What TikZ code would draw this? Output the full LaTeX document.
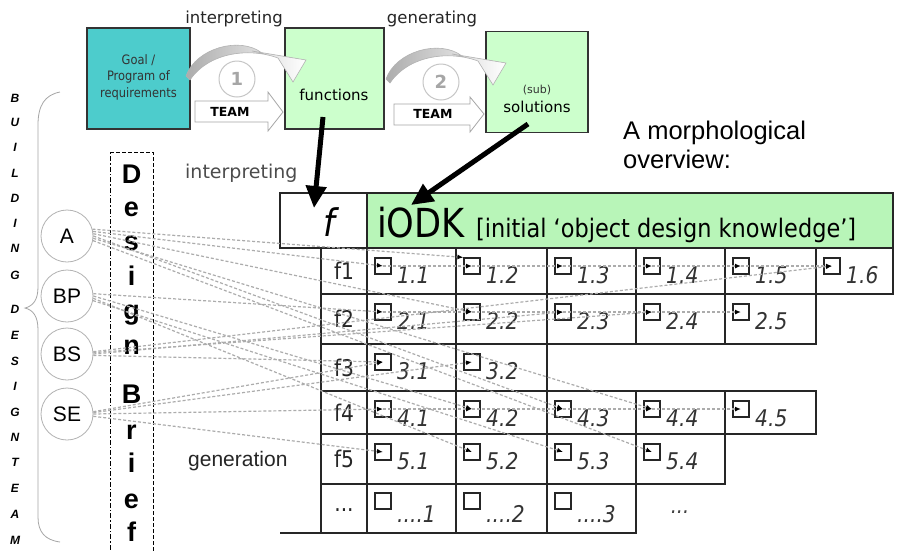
\documentclass[tikz,border=0pt]{standalone}
\usepackage{fontspec}
\setmainfont{DejaVu Sans}
\newfontfamily\arial{Liberation Sans}
\newfontfamily\tah[FakeStretch=0.88]{DejaVu Sans}
\usetikzlibrary{arrows.meta}
\definecolor{tealbox}{HTML}{4DCCCC}
\definecolor{lgreen}{HTML}{CCFFCC}
\definecolor{hgreen}{HTML}{B8F5B8}
\newcommand\fsz[1]{\fontsize{#1}{#1}\selectfont}
\tikzset{
  topbox/.style={draw=black!80,line width=1.3pt,minimum width=103pt,minimum height=101pt,inner sep=0pt},
  tline/.style={draw=black!85,line width=1.3pt},
  sqbox/.style={draw=black!85,line width=1.2pt,minimum size=16pt,inner sep=0pt},
  dl/.style={draw=gray!65,dash pattern=on 3pt off 2pt,line width=1.2pt,-{Latex[black,length=6pt,width=5pt]}},
  bigarrow/.style={line width=5pt,-{Triangle[length=22pt,width=20pt]}},
  member/.style={circle,draw=gray!60,line width=0.8pt,minimum size=52pt,inner sep=0pt,font=\arial\fsz{21}},
  stepcirc/.style={circle,draw=gray!45,line width=1pt,minimum size=36pt,inner sep=0pt,font=\bfseries\fsz{18},text=gray!70},
  teamarrow/.style={draw=gray!70,fill=white,line width=0.8pt},
  curvarrow/.style={draw=gray!60,line width=0.6pt,left color=gray!65,right color=white},
  cellnum/.style={anchor=base west,font=\tah\itshape\fsz{23},text=black!80,inner sep=0pt},
  rowlab/.style={font=\tah\fsz{23},text=black!85},
  dbletter/.style={anchor=base,font=\arial\bfseries\fsz{27},inner sep=0pt},
  bdletter/.style={font=\arial\bfseries\itshape\fsz{12},inner sep=0pt}
}
\begin{document}
\begin{tikzpicture}[x=1pt,y=-1pt]
\useasboundingbox (0,0) rectangle (899,550);
\fill[white] (0,0) rectangle (899,550);

% ---------- top process ----------
\node[topbox,fill=tealbox,minimum width=103pt] (goal) at (138.5,78.5) {};
\node[align=center,font=\tah\fontsize{13}{16.5}\selectfont,text=black!80] (goalt) at (138.5,77) {Goal /\\Program of\\requirements};
\node[topbox,fill=lgreen,minimum width=99pt] (func) at (334.5,78.5) {};
\node[font=\fsz{15}] (funct) at (334,95) {functions};
\node[topbox,fill=lgreen,minimum width=102pt] (sol) at (537,82) {};
\node[font=\fsz{11},text=black!80] (subt) at (537,90) {(sub)};
\node[font=\fsz{15}] (solt) at (537,107) {solutions};

\node[anchor=base,font=\fsz{16.5},text=black!85] (int1) at (234,23) {interpreting};
\node[anchor=base,font=\fsz{16.5},text=black!85] (gen1) at (432,23) {generating};

\node[stepcirc] (c1) at (237,79) {1};
\node[stepcirc] (c2) at (441,82) {2};

% curved block arrows
\path[curvarrow] (186,76) .. controls (196,48) and (240,36) .. (262,53) -- (252,51) -- (306,60) -- (293,82) -- (278,58) .. controls (248,47) and (208,53) .. (190,80) -- cycle;
\begin{scope}[shift={(200,3)}]
\path[curvarrow] (186,76) .. controls (196,48) and (240,36) .. (262,53) -- (252,51) -- (306,60) -- (293,82) -- (278,58) .. controls (248,47) and (208,53) .. (190,80) -- cycle;
\end{scope}

% TEAM arrows
\path[teamarrow] (195,101) -- (268,101) -- (268,92) -- (283,112) -- (268,131) -- (268,122) -- (195,122) -- cycle;
\node[font=\bfseries\fsz{12.5}] (team1) at (230,112) {TEAM};
\path[teamarrow] (394,104) -- (470,104) -- (470,97) -- (484,114) -- (470,132) -- (470,125) -- (394,125) -- cycle;
\node[font=\bfseries\fsz{12.5}] (team2) at (433,114) {TEAM};

% morphological text
\node[anchor=base west,font=\arial\fsz{25.5},inner sep=0pt] (morph1) at (623,139) {A morphological};
\node[anchor=base west,font=\arial\fsz{25.5},inner sep=0pt] (morph2) at (623,168) {overview:};

% ---------- building design team ----------
\foreach \ch/\yy [count=\i] in {B/98,U/122,I/147,L/173,D/198,I/223,N/248,G/275,D/309,E/335,S/361,I/386,G/412,N/437,T/462,E/488,A/514,M/540}
  \node[bdletter] (bd\i) at (15,\yy) {\ch};
\draw[gray!70,line width=0.8pt] (60,92) .. controls (45,95) and (38,105) .. (38,125) -- (38,287) .. controls (38,300) and (33,306) .. (25,308) .. controls (33,310) and (38,316) .. (38,330) -- (38,517) .. controls (38,532) and (45,540) .. (60,542);

\node[member] (A) at (67,236) {A};
\node[member] (BP) at (67,296) {BP};
\node[member] (BS) at (67,354) {BS};
\node[member] (SE) at (67,414) {SE};

% design brief
\draw[black,line width=1pt,dash pattern=on 5pt off 2pt on 1.5pt off 2pt] (110,560) -- (110,152);
\draw[black,line width=1pt,dash pattern=on 4pt off 2pt] (110,152) -- (153,152) -- (153,560);
\foreach \ch/\yy [count=\i] in {D/183,e/216,s/250,i/285,g/319,n/354,B/403,r/439,i/472,e/508,f/541}
  \node[dbletter] (db\i) at (131.5,\yy) {\ch};

\node[anchor=base west,font=\fsz{19},text=black!70,inner sep=0pt] (int2) at (185,178) {interpreting};
\node[anchor=base west,font=\arial\fsz{21},text=black!85,inner sep=0pt] (gen2) at (188,466) {generation};

% ---------- table ----------
\draw[tline] (280,193) rectangle (367,248);
\draw[tline,fill=hgreen] (367,193) rectangle (893,248);
\node[font=\tah\itshape\fsz{38}] (fhead) at (329,222) {f};
\node[anchor=base west,inner sep=0pt] (iodk) at (377,237) {\tah\fsz{40}iODK\ \fsz{25.5}[initial ‘object design knowledge’]};

\foreach \r/\t/\b/\n in {1/248/294/6, 2/294/344/5, 3/344/391/2, 4/391/434/5, 5/434/484/4}{
  \draw[tline] (321,\t) rectangle (367,\b);
  \node[rowlab] (f\r) at (344,{(\t+\b)/2}) {f\r};
  \foreach \c/\xl/\xr in {1/367/456, 2/456/547, 3/547/636, 4/636/725, 5/725/816, 6/816/893}{
    \ifnum\c>\n\else
      \draw[tline] (\xl,\t) rectangle (\xr,\b);
      \node[sqbox] (s\r\c) at ({\xl+16},{\t+18}) {};
      \node[cellnum] (l\r\c) at ({\xl+30},{\t+35}) {\r.\c};
    \fi
  }
}
\draw[tline] (321,484) rectangle (367,533);
\draw[tline] (280,533) -- (321,533);
\node[rowlab] (f6) at (344,510) {...};
\foreach \c/\xl/\xr in {1/367/456, 2/456/547, 3/547/636}{
  \draw[tline] (\xl,484) rectangle (\xr,533);
  \node[sqbox] (s6\c) at ({\xl+16},{484+17}) {};
  \node[cellnum] (l6\c) at ({\xl+30},{484+38}) {....\c};
}
\node[font=\tah\itshape\fsz{22},text=black!75] (dots) at (680,512) {...};

% ---------- dashed relations ----------
\draw[dl] (A.15) -- (s12.north west);
\draw[dl] (A.10) -- (s11.center);
\draw[dl] (A.5) -- (s22.center);
\draw[dl] (A.0) -- (s43.center);
\draw[dl] (A.-5) -- (s44.center);
\draw[dl] (A.-10) -- (s54.center);
\draw[dl] (BP.5) -- (s21.center);
\draw[dl] (BP.0) -- (s42.center);
\draw[dl] (BP.-5) -- (s52.center);
\draw[dl] (BP.-10) -- (s53.center);
\draw[dl] (BS.5) -- (s16.center);
\draw[dl] (BS.3) -- (s24.center);
\draw[dl] (BS.0) -- (s23.center);
\draw[dl] (BS.-3) -- (s31.center);
\draw[dl] (SE.5) -- (s31.center);
\draw[dl] (SE.3) -- (s32.center);
\draw[dl] (SE.0) -- (s41.center);
\draw[dl] (SE.-5) -- (s51.center);
\foreach \a/\b in {11/12,12/13,13/14,14/15,15/16,21/22,22/23,23/24,24/25,41/42,42/43,43/44,44/45}
  \draw[dl] (s\a.center) -- (s\b.center);

% ---------- thick arrows ----------
\coordinate (fa) at (323,117);
\coordinate (ft) at (314,208);
\draw[bigarrow] (fa) -- (ft);
\coordinate (sa) at (528,124);
\coordinate (st) at (411,205);
\draw[bigarrow] (sa) -- (st);
\end{tikzpicture}
\end{document}
